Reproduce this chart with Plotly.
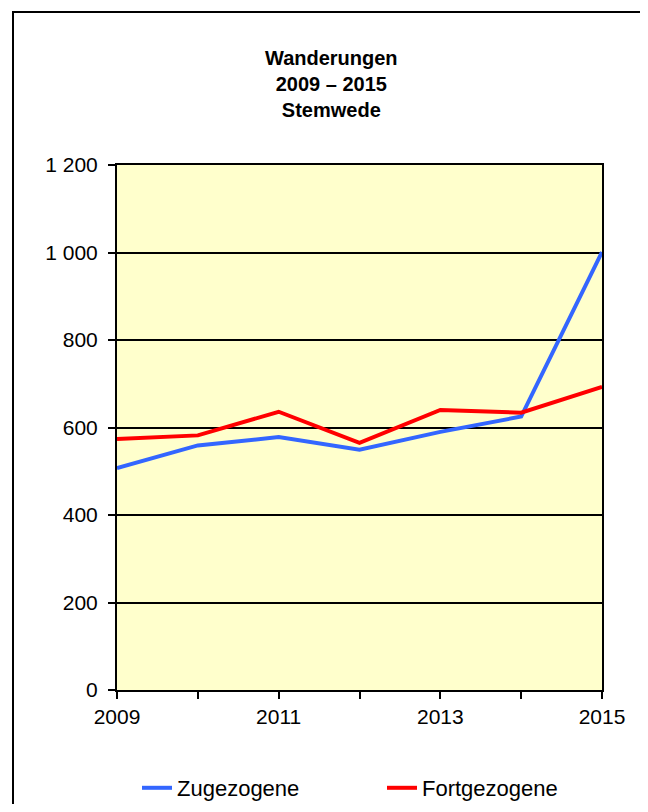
import plotly.graph_objects as go

years = [2009, 2010, 2011, 2012, 2013, 2014, 2015]
zugezogene = [507, 559, 578, 549, 590, 625, 1001]
fortgezogene = [574, 582, 636, 565, 640, 634, 693]
x_tick_labels = ["2009", "", "2011", "", "2013", "", "2015"]
title_lines = ["Wanderungen", "2009 – 2015", "Stemwede"]

OFF = 8  # page body margin
W, H = 648 - 2 * OFF, 812 - 2 * OFF
# plot area in page pixels
L, R, T, B = 117, 602, 165, 690


def px(x):
    return (x - L) / (R - L)


def py(y):
    return (B - y) / (B - T)


FONT = "Liberation Sans, Arial, sans-serif"

fig = go.Figure()
fig.add_trace(go.Scatter(x=years, y=zugezogene, mode="lines", name="Zugezogene",
                         legendwidth=200,
                         line=dict(color="#3366FF", width=4)))
fig.add_trace(go.Scatter(x=years, y=fortgezogene, mode="lines", name="Fortgezogene",
                         legendwidth=140,
                         line=dict(color="#FF0000", width=4)))

shapes = [
    # outer frame
    dict(type="rect", xref="paper", yref="paper", x0=px(13), x1=px(642), y0=py(840), y1=py(12),
         line=dict(color="black", width=2), fillcolor="rgba(0,0,0,0)", layer="below"),
    # shadow on the right
    dict(type="rect", xref="paper", yref="paper", x0=px(643), x1=px(652), y0=py(840), y1=py(17),
         line=dict(width=0), fillcolor="black", layer="below"),
]

annotations = [dict(text="<br>".join("<b>%s</b>" % t for t in title_lines),
                    xref="paper", yref="paper", x=px(331), y=py(83.5),
                    xanchor="center", yanchor="middle", align="center",
                    showarrow=False, font=dict(family=FONT, size=20, color="black"))]

fig.update_layout(
    width=W, height=H,
    margin=dict(l=L - OFF, r=(W + OFF) - R, t=T - OFF, b=(H + OFF) - B, autoexpand=False),
    paper_bgcolor="white",
    plot_bgcolor="#FFFFCC",
    separators=", ",
    font=dict(family=FONT, size=21, color="black"),
    showlegend=True,
    legend=dict(orientation="h", x=px(137), y=py(788), xanchor="left", yanchor="middle",
                font=dict(family=FONT, size=22, color="black"),
                bgcolor="rgba(0,0,0,0)"),
    shapes=shapes,
    annotations=annotations,
    xaxis=dict(range=[2009, 2015], tickvals=years, ticktext=x_tick_labels,
               showgrid=False, zeroline=False, showline=True, linecolor="black", linewidth=2,
               mirror=True, ticks="outside", ticklen=7, tickwidth=2, tickcolor="black",
               tickfont=dict(size=21)),
    yaxis=dict(range=[0, 1200], dtick=200, tickformat=",d",
               showgrid=True, gridcolor="black", gridwidth=1.5, zeroline=False,
               showline=True, linecolor="black", linewidth=2, mirror=True,
               ticks="outside", ticklen=7, tickwidth=2, tickcolor="black",
               ticklabelstandoff=6, tickfont=dict(size=21)),
)

fig.write_html("out.html")
